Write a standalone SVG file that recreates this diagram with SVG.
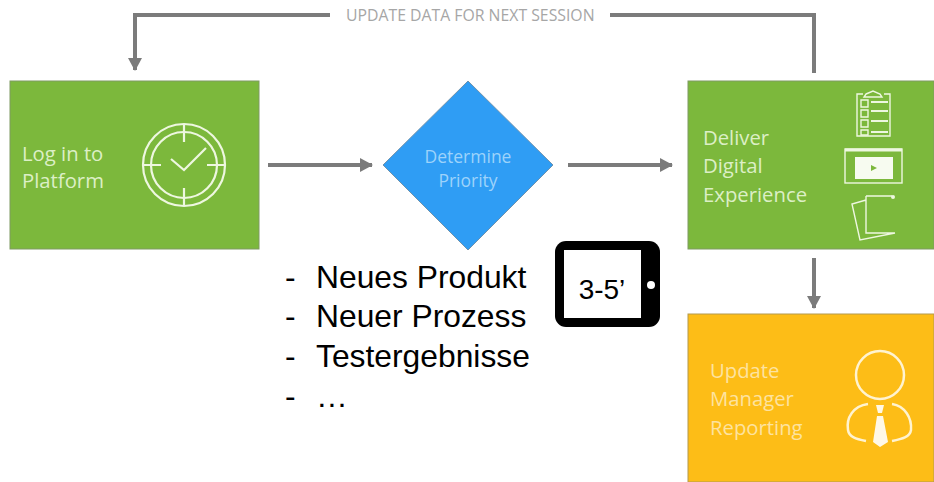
<svg xmlns="http://www.w3.org/2000/svg" width="934" height="482" viewBox="0 0 934 482">
<style>
.os{font-family:"Open Sans","Noto Sans","DejaVu Sans",sans-serif}
.lbl{font-size:20.300px;fill:#dcefc6}
.y{fill:#fde3a0}
.ar{font-family:"Liberation Sans",Arial,sans-serif;fill:#000}
.big{font-size:31.800px}
.ic{fill:none;stroke:#eef7e0;stroke-width:2.2}
.ic2{fill:none;stroke:#eef7e0;stroke-width:1.4}
.conn{fill:none;stroke:#7b7b7b;stroke-width:4}
</style>
<defs><marker id="ah" markerUnits="userSpaceOnUse" markerWidth="13" markerHeight="14" refX="12" refY="7" orient="auto"><path d="M0 0L13 7L0 14Z" fill="#7b7b7b"/></marker></defs>
<rect width="934" height="482" fill="#fff"/>
<g id="connectors">
<path class="conn" d="M330 15H135V70" marker-end="url(#ah)"/>
<path class="conn" d="M610 15H814V73"/>
<path class="conn" d="M268 165H372" marker-end="url(#ah)"/>
<path class="conn" d="M568 165H672" marker-end="url(#ah)"/>
<path class="conn" d="M814 258V308" marker-end="url(#ah)"/>
</g>
<text class="os" x="346" y="21" font-size="15.800" fill="#a6a6a6">UPDATE DATA FOR NEXT SESSION</text>
<g id="login">
<rect x="10" y="81" width="249" height="168" fill="#7cb83c" stroke="#7f9a62" stroke-width="1"/>
<text class="os lbl" x="22" y="161">Log in to</text>
<text class="os lbl" x="22" y="188">Platform</text>
<g class="ic">
<circle cx="184" cy="165" r="41"/><circle cx="184" cy="165" r="33"/>
<path d="M184 124V142M184 188V206M143 165H161M207 165H225"/>
<path d="M171 159L184 170L206 148"/>
</g>
</g>
<g id="priority">
<path d="M468 81L553 165L468 250L383 165Z" fill="#2f9df4" stroke="#6f92ad" stroke-width="1"/>
<text class="os" x="468" y="163" font-size="17.500" fill="#9dd3fb" text-anchor="middle">Determine</text>
<text class="os" x="468" y="187" font-size="17.500" fill="#9dd3fb" text-anchor="middle">Priority</text>
</g>
<g id="deliver">
<rect x="688" y="81" width="246" height="168" fill="#7cb83c" stroke="#7f9a62" stroke-width="1"/>
<text class="os lbl" x="703" y="145">Deliver</text>
<text class="os lbl" x="703" y="173">Digital</text>
<text class="os lbl" x="703" y="202">Experience</text>
<g class="ic2">
<path d="M863 94H857V136H890V94H884M866 94L873 91L880 94L882 97H864Z"/>
<path d="M861 100h7v7h-7zM861 110h7v7h-7zM861 120h7v7h-7zM861 130h7v5h-7z"/>
<path d="M871 102h17M871 111h17M871 121h17M871 132h17" stroke-width="2"/>
<rect x="845" y="149" width="57" height="34"/>
<path d="M845 150H902" stroke-width="3"/>
<path d="M866 196H892M866 196V233H895M866 200L852 204L860 240L895 233"/>
</g>
<circle cx="893" cy="197" r="2" fill="#eef7e0"/>
<rect x="855" y="157" width="38" height="22" fill="#f7fbf0"/>
<path d="M871 165L877 168L871 171Z" fill="#7cb83c"/>
</g>
<g id="report">
<rect x="688" y="314" width="246" height="168" fill="#fdbd17" stroke="#b39a4e" stroke-width="1"/>
<text class="os lbl y" x="710" y="378">Update</text>
<text class="os lbl y" x="710" y="406">Manager</text>
<text class="os lbl y" x="710" y="435">Reporting</text>
<g fill="none" stroke="#fff3d0" stroke-width="2.500">
<circle cx="880" cy="375" r="24"/>
<path d="M868 404C853 406 846 418 848 430C849 437 856 439 866 441M892 404C905 406 912 418 911 430C910 437 902 439 892 441"/>
</g>
<path d="M876 405H884L882 413H878ZM877 416H883L888 442L880 447L873 442Z" fill="#fff8e6"/>
</g>
<g id="tablet">
<rect x="555" y="241" width="105" height="86" rx="11" fill="#000"/>
<rect x="564" y="250" width="77" height="68" fill="#fff"/>
<circle cx="651" cy="285" r="4" fill="#fff"/>
<text class="ar" x="602" y="299" font-size="28" text-anchor="middle">3-5’</text>
</g>
<g id="list" class="ar big">
<text x="285" y="288">-</text><text x="316" y="288">Neues Produkt</text>
<text x="285" y="327">-</text><text x="316" y="327">Neuer Prozess</text>
<text x="285" y="367">-</text><text x="316" y="367">Testergebnisse</text>
<text x="285" y="407">-</text><text x="316" y="407">…</text>
</g>
</svg>
